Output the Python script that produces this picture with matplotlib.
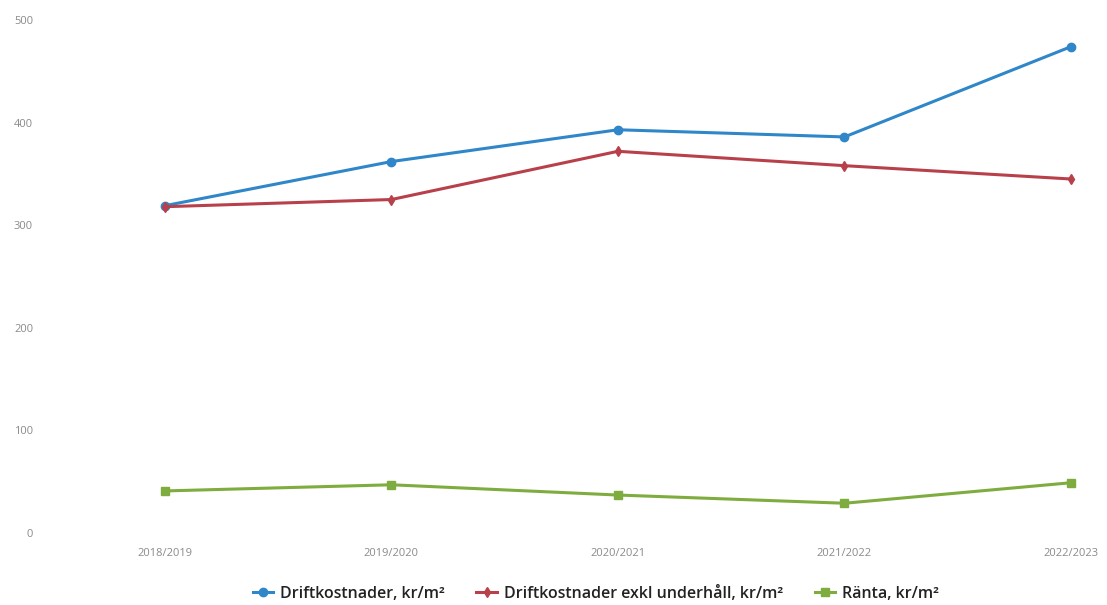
import matplotlib.pyplot as plt

years = ['2018/2019', '2019/2020', '2020/2021', '2021/2022', '2022/2023']
drift = [319, 362, 393, 386, 474]
drift_exkl = [318, 325, 372, 358, 345]
ranta = [41, 47, 37, 29, 49]

plt.rcParams['font.family'] = ['Open Sans', 'DejaVu Sans']

fig = plt.figure(figsize=(11.07, 6.05), dpi=100)
ax = fig.add_axes([0.045, 0.119, 0.945, 0.848])

x = range(len(years))
ax.plot(x, drift, color='#2f86c8', lw=2.2, marker='o', ms=6, label='Driftkostnader, kr/m²')
ax.plot(x, drift_exkl, color='#b8404a', lw=2.2, marker='d', ms=5, label='Driftkostnader exkl underhåll, kr/m²')
ax.plot(x, ranta, color='#7fac3f', lw=2.2, marker='s', ms=6, label='Ränta, kr/m²')

ax.set_ylim(0, 500)
ax.set_xlim(-0.508, 4.11)
ax.set_yticks([0, 100, 200, 300, 400, 500])
ax.set_xticks(list(x))
ax.set_xticklabels(years)
for s in ax.spines.values():
    s.set_visible(False)
ax.tick_params(length=0, labelsize=8, colors='#8a8a8a', pad=12)
ax.tick_params(axis='x', pad=11)

fig.legend(loc='lower center', bbox_to_anchor=(0.538, -0.018), ncol=3, frameon=False,
           prop={'size': 11.5, 'weight': 'semibold'}, handlelength=1.3, columnspacing=2.0,
           handletextpad=0.4, labelcolor='#222222')

fig.savefig('out.png', dpi=100)
